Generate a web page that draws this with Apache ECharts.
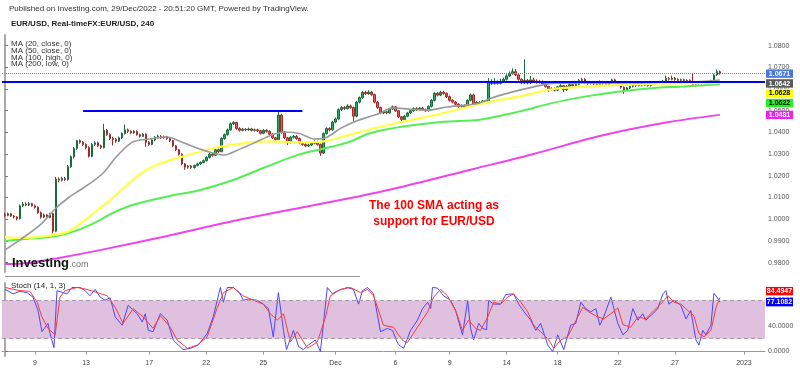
<!DOCTYPE html>
<html><head><meta charset="utf-8">
<script src="https://cdn.jsdelivr.net/npm/echarts@6/dist/echarts.min.js"></script>
<style>html,body{margin:0;padding:0;background:#fff}#c{width:800px;height:371px}</style>
</head><body><div id="c"></div>
<script>
// EUR/USD 4h candles: [open, close, low, high]
const candles = [
[1.0022,1.0018,1.0012,1.0030],[1.0018,1.0025,1.0014,1.0031],[1.0025,1.0015,1.0011,1.0029],[1.0015,1.0010,1.0004,1.0020],[1.0010,1.0002,0.9995,1.0014],[1.0002,1.0062,0.9999,1.0068],
[1.0062,1.0070,1.0055,1.0080],[1.0070,1.0066,1.0060,1.0078],[1.0066,1.0072,1.0061,1.0079],[1.0072,1.0062,1.0058,1.0076],[1.0062,1.0055,1.0049,1.0068],[1.0055,1.0030,1.0025,1.0060],
[1.0030,1.0010,1.0003,1.0036],[1.0010,1.0020,1.0005,1.0026],[1.0020,1.0008,1.0002,1.0024],[1.0008,1.0025,1.0004,1.0030],[1.0025,0.9945,0.9935,1.0030],[0.9945,1.0185,0.9940,1.0195],
[1.0185,1.0180,1.0170,1.0193],[1.0180,1.0188,1.0174,1.0196],[1.0188,1.0183,1.0176,1.0195],[1.0183,1.0242,1.0178,1.0250],[1.0242,1.0288,1.0236,1.0294],[1.0288,1.0327,1.0280,1.0333],
[1.0327,1.0362,1.0320,1.0366],[1.0362,1.0355,1.0348,1.0368],[1.0355,1.0345,1.0338,1.0360],[1.0345,1.0330,1.0322,1.0350],[1.0330,1.0290,1.0284,1.0336],[1.0290,1.0345,1.0286,1.0351],
[1.0345,1.0352,1.0338,1.0360],[1.0352,1.0338,1.0332,1.0358],[1.0338,1.0330,1.0324,1.0344],[1.0330,1.0410,1.0326,1.0440],[1.0410,1.0390,1.0384,1.0416],[1.0390,1.0372,1.0365,1.0396],
[1.0372,1.0368,1.0340,1.0380],[1.0368,1.0360,1.0352,1.0374],[1.0360,1.0375,1.0356,1.0381],[1.0375,1.0395,1.0370,1.0400],[1.0395,1.0412,1.0390,1.0437],[1.0412,1.0405,1.0398,1.0418],
[1.0405,1.0398,1.0392,1.0410],[1.0398,1.0405,1.0393,1.0411],[1.0405,1.0390,1.0385,1.0410],[1.0390,1.0382,1.0376,1.0395],[1.0382,1.0392,1.0378,1.0398],[1.0392,1.0355,1.0335,1.0396],
[1.0355,1.0345,1.0338,1.0360],[1.0345,1.0365,1.0341,1.0370],[1.0365,1.0378,1.0360,1.0384],[1.0378,1.0382,1.0372,1.0390],[1.0382,1.0376,1.0370,1.0388],[1.0376,1.0380,1.0371,1.0386],
[1.0380,1.0372,1.0366,1.0384],[1.0372,1.0362,1.0356,1.0376],[1.0362,1.0338,1.0332,1.0366],[1.0338,1.0320,1.0314,1.0342],[1.0320,1.0300,1.0294,1.0324],[1.0300,1.0255,1.0249,1.0304],
[1.0255,1.0240,1.0228,1.0259],[1.0240,1.0245,1.0233,1.0250],[1.0245,1.0238,1.0232,1.0250],[1.0238,1.0248,1.0234,1.0252],[1.0248,1.0255,1.0243,1.0260],[1.0255,1.0262,1.0250,1.0266],
[1.0262,1.0270,1.0257,1.0275],[1.0270,1.0285,1.0266,1.0290],[1.0285,1.0300,1.0280,1.0306],[1.0300,1.0295,1.0288,1.0306],[1.0295,1.0320,1.0291,1.0326],[1.0320,1.0312,1.0305,1.0326],
[1.0312,1.0372,1.0308,1.0378],[1.0372,1.0390,1.0366,1.0395],[1.0390,1.0412,1.0385,1.0418],[1.0412,1.0440,1.0408,1.0446],[1.0440,1.0446,1.0434,1.0452],[1.0446,1.0418,1.0412,1.0450],
[1.0418,1.0410,1.0404,1.0424],[1.0410,1.0415,1.0405,1.0421],[1.0415,1.0412,1.0406,1.0420],[1.0412,1.0416,1.0408,1.0422],[1.0416,1.0410,1.0405,1.0421],[1.0410,1.0412,1.0404,1.0418],
[1.0412,1.0408,1.0402,1.0417],[1.0408,1.0396,1.0390,1.0412],[1.0396,1.0410,1.0392,1.0415],[1.0410,1.0405,1.0399,1.0415],[1.0405,1.0392,1.0386,1.0410],[1.0392,1.0375,1.0369,1.0396],
[1.0375,1.0368,1.0362,1.0380],[1.0368,1.0480,1.0364,1.0497],[1.0480,1.0400,1.0394,1.0486],[1.0400,1.0375,1.0369,1.0405],[1.0375,1.0355,1.0342,1.0380],[1.0355,1.0378,1.0350,1.0383],
[1.0378,1.0382,1.0372,1.0388],[1.0382,1.0372,1.0366,1.0388],[1.0372,1.0352,1.0346,1.0376],[1.0352,1.0345,1.0339,1.0358],[1.0345,1.0338,1.0332,1.0350],[1.0338,1.0342,1.0333,1.0348],
[1.0342,1.0350,1.0337,1.0355],[1.0350,1.0358,1.0345,1.0364],[1.0358,1.0345,1.0339,1.0362],[1.0345,1.0305,1.0292,1.0349],[1.0305,1.0395,1.0300,1.0400],[1.0395,1.0418,1.0390,1.0424],
[1.0418,1.0412,1.0405,1.0424],[1.0412,1.0448,1.0408,1.0454],[1.0448,1.0462,1.0442,1.0468],[1.0462,1.0505,1.0458,1.0511],[1.0505,1.0515,1.0499,1.0521],[1.0515,1.0510,1.0504,1.0521],
[1.0510,1.0522,1.0505,1.0530],[1.0522,1.0515,1.0509,1.0528],[1.0515,1.0475,1.0450,1.0519],[1.0475,1.0540,1.0470,1.0546],[1.0540,1.0560,1.0534,1.0566],[1.0560,1.0585,1.0555,1.0592],
[1.0585,1.0578,1.0572,1.0592],[1.0578,1.0586,1.0573,1.0594],[1.0586,1.0575,1.0569,1.0592],[1.0575,1.0540,1.0534,1.0579],[1.0540,1.0515,1.0509,1.0544],[1.0515,1.0490,1.0484,1.0519],
[1.0490,1.0495,1.0485,1.0500],[1.0495,1.0490,1.0484,1.0500],[1.0490,1.0508,1.0486,1.0513],[1.0508,1.0518,1.0503,1.0524],[1.0518,1.0500,1.0494,1.0522],[1.0500,1.0472,1.0466,1.0504],
[1.0472,1.0460,1.0450,1.0476],[1.0460,1.0475,1.0456,1.0480],[1.0475,1.0490,1.0470,1.0495],[1.0490,1.0500,1.0485,1.0506],[1.0500,1.0510,1.0495,1.0516],[1.0510,1.0505,1.0499,1.0516],
[1.0505,1.0512,1.0500,1.0518],[1.0512,1.0505,1.0499,1.0518],[1.0505,1.0500,1.0494,1.0510],[1.0500,1.0520,1.0496,1.0525],[1.0520,1.0548,1.0515,1.0554],[1.0548,1.0580,1.0543,1.0586],
[1.0580,1.0572,1.0566,1.0586],[1.0572,1.0585,1.0567,1.0592],[1.0585,1.0580,1.0574,1.0592],[1.0580,1.0565,1.0559,1.0585],[1.0565,1.0548,1.0542,1.0570],[1.0548,1.0540,1.0534,1.0553],
[1.0540,1.0530,1.0524,1.0545],[1.0530,1.0520,1.0514,1.0535],[1.0520,1.0524,1.0515,1.0530],[1.0524,1.0518,1.0512,1.0530],[1.0518,1.0548,1.0514,1.0553],[1.0548,1.0573,1.0543,1.0579],
[1.0573,1.0530,1.0524,1.0578],[1.0530,1.0538,1.0525,1.0544],[1.0538,1.0535,1.0529,1.0544],[1.0535,1.0545,1.0530,1.0550],[1.0545,1.0540,1.0534,1.0550],[1.0540,1.0630,1.0536,1.0650],
[1.0630,1.0625,1.0619,1.0645],[1.0625,1.0632,1.0620,1.0650],[1.0632,1.0626,1.0620,1.0640],[1.0626,1.0635,1.0621,1.0648],[1.0635,1.0645,1.0630,1.0652],[1.0645,1.0660,1.0640,1.0668],
[1.0660,1.0672,1.0655,1.0680],[1.0672,1.0680,1.0666,1.0695],[1.0680,1.0665,1.0659,1.0692],[1.0665,1.0645,1.0639,1.0670],[1.0645,1.0628,1.0622,1.0650],[1.0628,1.0640,1.0623,1.0737],
[1.0640,1.0628,1.0622,1.0646],[1.0628,1.0642,1.0623,1.0660],[1.0642,1.0636,1.0630,1.0652],[1.0636,1.0630,1.0624,1.0645],[1.0630,1.0634,1.0625,1.0642],[1.0634,1.0625,1.0619,1.0640],
[1.0625,1.0612,1.0606,1.0630],[1.0612,1.0598,1.0588,1.0616],[1.0598,1.0602,1.0593,1.0608],[1.0602,1.0595,1.0589,1.0607],[1.0595,1.0610,1.0590,1.0615],[1.0610,1.0615,1.0605,1.0622],
[1.0615,1.0597,1.0586,1.0620],[1.0597,1.0612,1.0592,1.0618],[1.0612,1.0620,1.0607,1.0636],[1.0620,1.0616,1.0610,1.0628],[1.0616,1.0622,1.0611,1.0628],[1.0622,1.0640,1.0617,1.0646],
[1.0640,1.0644,1.0634,1.0652],[1.0644,1.0630,1.0624,1.0650],[1.0630,1.0626,1.0620,1.0636],[1.0626,1.0630,1.0621,1.0636],[1.0630,1.0624,1.0618,1.0636],[1.0624,1.0620,1.0614,1.0630],
[1.0620,1.0632,1.0615,1.0640],[1.0632,1.0625,1.0619,1.0638],[1.0625,1.0620,1.0614,1.0630],[1.0620,1.0630,1.0615,1.0636],[1.0630,1.0642,1.0625,1.0648],[1.0642,1.0632,1.0626,1.0648],
[1.0632,1.0620,1.0614,1.0637],[1.0620,1.0608,1.0602,1.0625],[1.0608,1.0596,1.0578,1.0612],[1.0596,1.0605,1.0591,1.0610],[1.0605,1.0612,1.0600,1.0617],[1.0612,1.0620,1.0607,1.0626],
[1.0620,1.0616,1.0610,1.0626],[1.0616,1.0622,1.0611,1.0627],[1.0622,1.0618,1.0612,1.0627],[1.0618,1.0621,1.0613,1.0626],[1.0621,1.0617,1.0611,1.0626],[1.0617,1.0624,1.0612,1.0629],
[1.0624,1.0628,1.0619,1.0634],[1.0628,1.0625,1.0619,1.0634],[1.0625,1.0632,1.0620,1.0638],[1.0632,1.0636,1.0627,1.0642],[1.0636,1.0648,1.0631,1.0662],[1.0648,1.0645,1.0639,1.0655],
[1.0645,1.0650,1.0640,1.0662],[1.0650,1.0644,1.0638,1.0656],[1.0644,1.0640,1.0634,1.0650],[1.0640,1.0643,1.0635,1.0648],[1.0643,1.0638,1.0632,1.0648],[1.0638,1.0640,1.0633,1.0645],
[1.0640,1.0635,1.0629,1.0645],[1.0635,1.0622,1.0616,1.0670],[1.0622,1.0628,1.0617,1.0633],[1.0628,1.0625,1.0619,1.0633],[1.0625,1.0630,1.0620,1.0635],[1.0630,1.0627,1.0621,1.0635],
[1.0627,1.0632,1.0622,1.0637],[1.0632,1.0638,1.0627,1.0643],[1.0638,1.0665,1.0633,1.0670],[1.0665,1.0680,1.0660,1.0690],[1.0680,1.0671,1.0666,1.0686]
];

// Moving averages: [bar index, value]
const ma20 = [[0,0.9859],[5,0.9905],[12,0.9978],[17,1.0052],[21,1.0098],[25,1.0135],[29,1.0172],[33,1.0218],[37,1.0287],[42,1.0352],[45,1.0365],[48,1.0370],[54,1.0379],[58,1.0361],[63,1.0333],[68,1.0310],[73,1.0296],[78,1.0322],[83,1.0352],[88,1.0384],[93,1.0402],[98,1.0395],[103,1.0370],[107,1.0377],[112,1.0421],[117,1.0453],[121,1.0471],[125,1.0490],[129,1.0513],[135,1.0507],[141,1.0503],[147,1.0517],[154,1.0527],[158,1.0536],[162,1.0559],[169,1.0587],[176,1.0610],[182,1.0626],[193,1.0628],[209,1.0628],[221,1.0633],[232,1.0635],[238,1.0642]];
const ma50 = [[0,0.9918],[5,0.9914],[15,0.9925],[21,0.9943],[26,0.9990],[31,1.0045],[36,1.0100],[42,1.0175],[47,1.0227],[52,1.0259],[61,1.0296],[69,1.0326],[78,1.0347],[87,1.0359],[98,1.0354],[106,1.0359],[112,1.0379],[122,1.0416],[132,1.0448],[143,1.0480],[154,1.0517],[161,1.0540],[171,1.0565],[182,1.0599],[193,1.0611],[204,1.0619],[215,1.0624],[226,1.0626],[238,1.0628]];
const ma100 = [[0,0.9900],[9,0.9912],[15,0.9918],[21,0.9935],[29,0.9978],[36,1.0030],[43,1.0068],[54,1.0105],[65,1.0135],[76,1.0181],[87,1.0242],[98,1.0299],[109,1.0335],[115,1.0358],[121,1.0394],[132,1.0426],[146,1.0449],[158,1.0459],[171,1.0496],[182,1.0535],[193,1.0565],[204,1.0588],[215,1.0604],[226,1.0612],[238,1.0622]];
const ma200 = [[0,0.9794],[8,0.9799],[18,0.9822],[32,0.9859],[54,0.9923],[76,0.9992],[98,1.0052],[115,1.0098],[132,1.0149],[156,1.0232],[176,1.0301],[198,1.0384],[221,1.0448],[238,1.0481]];

// Stochastic (14,1,3): [bar index, value]
const stochK = [[0,97],[2.7,90],[5,94],[7.3,92],[9.3,85],[11,64],[12.3,31],[14.3,44],[15,28],[16.3,6],[17.3,95],[19.3,92],[20.7,90],[22.3,100],[25,100],[26.7,95],[28.3,87],[30,97],[31.7,85],[33.3,80],[35,84],[36.7,54],[39,41],[41,72],[44,59],[45.7,46],[46.7,59],[47.7,33],[49.3,31],[51.7,59],[54,49],[56,18],[59.3,3],[61.7,5],[64.3,10],[67.3,28],[69.3,54],[71.7,100],[72.7,77],[74,100],[76,100],[78.3,90],[79.3,80],[81,82],[84,80],[86,74],[87.7,67],[89.3,23],[91,92],[92.7,33],[93.7,3],[96,33],[97.7,8],[99.3,3],[101,10],[103.3,18],[105,0],[107.3,100],[109,90],[110.7,95],[114,100],[116,97],[117.7,74],[119,95],[120.7,100],[122.7,90],[125,31],[127.3,36],[129,33],[130.7,13],[131.7,8],[132.7,5],[135,33],[137.3,49],[139,67],[140.7,77],[141.7,67],[142.3,100],[144,99],[146,87],[148.3,80],[150,64],[152.3,26],[154,80],[155,36],[156,18],[157.7,44],[159,36],[160.3,34],[161,80],[162.7,74],[165,74],[166.7,89],[169.3,90],[171,74],[173.3,59],[175,49],[176.7,33],[178.3,44],[180.7,10],[182.3,0],[184,26],[186,3],[188.3,41],[190,44],[191.7,77],[193.3,67],[195,62],[196.7,67],[198,41],[199.3,54],[201.7,85],[202.7,67],[204,44],[205.7,26],[207.3,33],[209,67],[210.7,49],[212.3,59],[213.3,49],[215.7,59],[217.3,67],[219,90],[220,95],[221,74],[222.7,80],[225,72],[226.7,51],[228.3,64],[230,18],[231,10],[232.3,33],[233.3,26],[235,41],[236,91],[237,85],[238,77.1082]];
const stochD = [[0,100],[5,95],[8.3,94],[10.7,77],[12.3,54],[14.3,36],[16.7,26],[18.3,85],[20,95],[24,100],[27.3,97],[30.7,92],[34,87],[36.7,69],[39.3,44],[42.7,67],[46,54],[49.3,36],[51.7,56],[55,38],[57.3,18],[60.7,5],[64,10],[67.3,23],[70.7,69],[72.7,92],[76,100],[79.3,87],[82.7,80],[86,74],[88.3,59],[90.7,49],[92.7,59],[95,15],[97.3,31],[100.7,5],[104,15],[106.7,54],[108.3,87],[111.7,97],[115,100],[118.3,92],[120.7,97],[122.7,87],[126,41],[129.3,38],[131,26],[132.7,16],[134,14],[137.3,38],[140.7,62],[142.7,85],[145,97],[147.3,87],[150,64],[152.3,33],[154.3,49],[156.7,36],[158.3,33],[160.7,54],[162.7,77],[165,74],[167.3,85],[169.3,90],[171.7,77],[174,62],[176,41],[178.3,31],[181,18],[182.7,5],[185,18],[187.3,23],[189.3,41],[192.3,69],[194.3,62],[197.3,54],[199.3,51],[201.7,59],[204,68],[205.7,42],[208.3,38],[210.7,54],[213.3,51],[216,64],[218.3,74],[220.7,87],[222.7,77],[225,74],[227.3,64],[229.3,56],[231,28],[232.7,23],[235,33],[236.7,69],[238,84.4947]];

// Axis ticks
const priceTicks = [0.98,0.99,1.00,1.01,1.02,1.03,1.04,1.05,1.06,1.07,1.08];
const stochTicks = [0,40,80];
const timeTicks = [[10,'9'],[27,'13'],[48,'17'],[67,'22'],[86,'25'],[110,'Dec'],[130,'6'],[148,'9'],[167,'14'],[184,'18'],[204,'22'],[223,'27'],[246,'2023']];

// Drawn levels
const supportLevel = 1.0632;
const resistanceLevel = 1.0500;
const resistanceSpan = [26, 99];
const stochBand = [20, 80];

const FONT = '"Liberation Sans", Arial, sans-serif';
const labelMap = {};
timeTicks.forEach(t => { labelMap[t[0]] = t[1]; });
const lastClose = candles[candles.length - 1][1];

const chart = echarts.init(document.getElementById('c'), null, {renderer: 'canvas'});
const option = {
  animation: false,
  backgroundColor: '#fff',
  grid: [
    {left: 2, right: 35, top: 35, height: 237},
    {left: 2, right: 35, top: 283, height: 73}
  ],
  xAxis: [
    {type: 'value', gridIndex: 0, min: -1, max: 253, show: false},
    {type: 'value', gridIndex: 1, min: -1, max: 253,
      axisLine: {show: true, lineStyle: {color: '#999', width: 1}},
      axisTick: {show: true, customValues: timeTicks.map(t => t[0]), length: 3, lineStyle: {color: '#999'}},
      axisLabel: {customValues: timeTicks.map(t => t[0]), formatter: v => labelMap[v] || '', fontSize: 7, color: '#444', margin: 4, fontFamily: FONT},
      splitLine: {show: false}}
  ],
  yAxis: [
    {type: 'value', gridIndex: 0, position: 'right', min: 0.9757, max: 1.0849,
      axisLine: {show: true, lineStyle: {color: '#aaa', width: 2}},
      axisTick: {show: true, customValues: priceTicks, length: 3, lineStyle: {color: '#777'}},
      axisLabel: {customValues: priceTicks, formatter: v => v.toFixed(4), fontSize: 7, color: '#555', margin: 3, fontFamily: FONT},
      splitLine: {show: false}},
    {type: 'value', gridIndex: 1, position: 'right', min: -7, max: 107,
      axisLine: {show: true, lineStyle: {color: '#aaa', width: 2}},
      axisTick: {show: true, customValues: stochTicks, length: 3, lineStyle: {color: '#777'}},
      axisLabel: {customValues: stochTicks, formatter: v => v.toFixed(4), fontSize: 7, color: '#555', margin: 3, fontFamily: FONT},
      splitLine: {show: false}}
  ],
  series: [
    {type: 'candlestick', xAxisIndex: 0, yAxisIndex: 0,
      data: candles.map((c, i) => [i, c[0], c[1], c[2], c[3]]),
      encode: {x: 0, y: [1, 2, 3, 4]},
      barWidth: 2,
      itemStyle: {color: '#1fb25a', color0: '#f25555', borderColor: '#1a6b3a', borderColor0: '#a02a2a', borderWidth: 1}
    },
    {type: 'line', name: 'MA200', xAxisIndex: 0, yAxisIndex: 0, data: ma200, showSymbol: false, smooth: 0.3, lineStyle: {color: '#ee44ee', width: 2}},
    {type: 'line', name: 'MA100', xAxisIndex: 0, yAxisIndex: 0, data: ma100, showSymbol: false, smooth: 0.3, lineStyle: {color: '#55ee55', width: 2}},
    {type: 'line', name: 'MA50', xAxisIndex: 0, yAxisIndex: 0, data: ma50, showSymbol: false, smooth: 0.3, lineStyle: {color: '#ffff4a', width: 2.2}},
    {type: 'line', name: 'MA20', xAxisIndex: 0, yAxisIndex: 0, data: ma20, showSymbol: false, smooth: 0.3, lineStyle: {color: '#999999', width: 1.6},
      markLine: {silent: true, symbol: 'none', animation: false, precision: 4, label: {show: false},
        data: [
          {yAxis: supportLevel, lineStyle: {color: '#0000ff', width: 2, type: 'solid'}},
          {yAxis: lastClose, lineStyle: {color: '#6f7fe0', width: 1, type: 'dotted'}},
          [{coord: [resistanceSpan[0], resistanceLevel], lineStyle: {color: '#0000ff', width: 2, type: 'solid'}}, {coord: [resistanceSpan[1], resistanceLevel]}]
        ]}},
    {type: 'line', name: '%D', xAxisIndex: 1, yAxisIndex: 1, data: stochD, showSymbol: false, lineStyle: {color: '#ff3b3b', width: 1}, z: 3,
      markArea: {silent: true, itemStyle: {color: '#dfc0df'}, data: [[{yAxis: stochBand[0]}, {yAxis: stochBand[1]}]]},
      markLine: {silent: true, symbol: 'none', precision: 4, label: {show: false}, lineStyle: {color: '#a89aa8', type: [4, 3], width: 1},
        data: [{yAxis: stochBand[0]}, {yAxis: stochBand[1]}]}},
    {type: 'line', name: '%K', xAxisIndex: 1, yAxisIndex: 1, data: stochK, showSymbol: false, lineStyle: {color: '#4848ff', width: 1}, z: 2}
  ]
};
chart.setOption(option);

// Price tags on the right axis, positioned through the axis scale
function tagY(axisIndex, v) { return chart.convertToPixel({yAxisIndex: axisIndex}, v); }
function stack(list, h) {
  const prim = list[0];
  prim.d = prim.p;
  let last = prim.d;
  list.slice(1).filter(t => t.p >= prim.p).sort((a, b) => a.p - b.p).forEach(t => { t.d = Math.max(t.p, last + h); last = t.d; });
  last = prim.d;
  list.slice(1).filter(t => t.p < prim.p).sort((a, b) => b.p - a.p).forEach(t => { t.d = Math.min(t.p, last - h); last = t.d; });
}
const mainTags = [
  {v: lastClose, bg: '#4a78e2', fg: '#fff'},
  {v: ma20[ma20.length - 1][1], bg: '#5a5a5a', fg: '#fff'},
  {v: ma50[ma50.length - 1][1], bg: '#ffff00', fg: '#000'},
  {v: ma100[ma100.length - 1][1], bg: '#22ee22', fg: '#000'},
  {v: ma200[ma200.length - 1][1], bg: '#ee22ee', fg: '#fff'}
].map(t => Object.assign(t, {p: tagY(0, t.v), txt: t.v.toFixed(4)}));
stack(mainTags, 9.8);
const stochTags = [
  {v: stochK[stochK.length - 1][1], bg: '#0000ff', fg: '#fff'},
  {v: stochD[stochD.length - 1][1], bg: '#ff0000', fg: '#fff'}
].map(t => Object.assign(t, {p: tagY(1, t.v), txt: t.v.toFixed(4)}));
stack(stochTags, 11);

const graphics = [];
function txt(x, y, text, font, fill, align) {
  graphics.push({type: 'text', z: 50, x: x, y: y, style: {text: text, font: font, fill: fill, align: align || 'left', verticalAlign: 'middle'}});
}
txt(9, 9, 'Published on Investing.com, 29/Dec/2022 - 20:51:20 GMT, Powered by TradingView.', '8px ' + FONT, '#333');
txt(11, 24, 'EUR/USD, Real-timeFX:EUR/USD, 240', 'bold 8px ' + FONT, '#222');
['MA (20, close, 0)', 'MA (50, close, 0)', 'MA (100, high, 0)', 'MA (200, low, 0)'].forEach((s, i) => txt(11, 43.5 + i * 6.9, s, '8px ' + FONT, '#333'));
txt(11, 286, 'Stoch (14, 1, 3)', '8px ' + FONT, '#222');
txt(434, 206, 'The 100 SMA acting as', 'bold 12px ' + FONT, '#ff0000', 'center');
txt(434, 222, 'support for EUR/USD', 'bold 12px ' + FONT, '#ff0000', 'center');
graphics.push({type: 'text', z: 50, x: 12, y: 263, style: {
  text: '{a|Investing}{b|.com}', verticalAlign: 'middle',
  rich: {a: {font: 'bold 13px ' + FONT, fill: '#111', verticalAlign: 'bottom'}, b: {font: '9px ' + FONT, fill: '#777', verticalAlign: 'bottom'}}}});
graphics.push({type: 'line', z: 50, shape: {x1: 5, y1: 276.5, x2: 360, y2: 276.5}, style: {stroke: '#999', lineWidth: 1}});
mainTags.concat(stochTags).forEach(t => {
  graphics.push({type: 'rect', z: 60, shape: {x: 766, y: t.d - 4.2, width: 27, height: 8.4}, style: {fill: t.bg}});
  graphics.push({type: 'text', z: 61, x: 779.5, y: t.d + 0.3, style: {text: t.txt, font: 'bold 7px ' + FONT, fill: t.fg, align: 'center', verticalAlign: 'middle'}});
});
chart.setOption({graphic: graphics});
</script>
</body></html>
